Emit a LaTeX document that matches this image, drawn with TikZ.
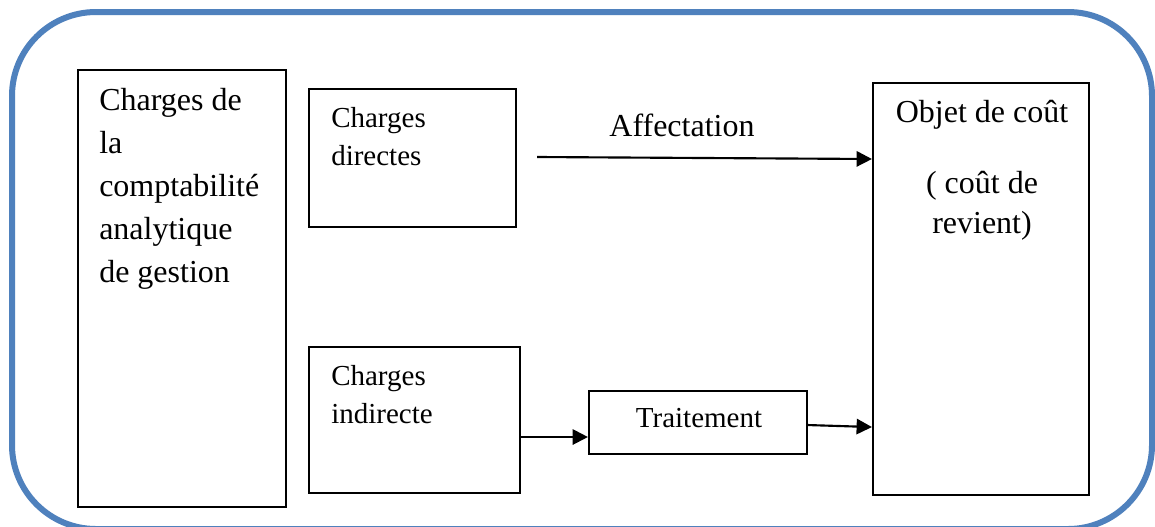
\documentclass[tikz,border=0pt]{standalone}
\usepackage{fontspec}
\setmainfont{Liberation Serif}
\usetikzlibrary{arrows.meta,fit}
\definecolor{frameblue}{RGB}{79,129,189}
\tikzset{
  box/.style={draw=black,line width=1.6pt,inner sep=0pt,fill=none},
  arr/.style={draw=black,line width=1.6pt,-{Triangle[length=11.5pt,width=11.5pt]}},
  bigtxt/.style={inner sep=0pt,font=\fontsize{24pt}{32.25pt}\selectfont},
  smalltxt/.style={inner sep=0pt,font=\fontsize{21.75pt}{28.5pt}\selectfont},
}
\begin{document}
\begin{tikzpicture}[x=0.75pt,y=-0.75pt]
\useasboundingbox (0,0) rectangle (1155,526);
\fill[white] (0,0) rectangle (1155,526);
% outer frame (bottom edge falls just outside the picture)
\begin{scope}
\clip (0,0) rectangle (1155,526);
\draw[frameblue,line width=4.5pt,rounded corners=63pt] (12,12) rectangle (1152,529);
\end{scope}
% boxes
\node[box,fit={(78,70) (286,507)}] (L) {};
\node[box,fit={(309,89) (516,227)}] (D) {};
\node[box,fit={(309,347) (520,493)}] (I) {};
\node[box,fit={(589,391) (807,454)}] (T) {};
\node[box,fit={(873,83) (1089,495)}] (R) {};
% texts (anchor = baseline of last line)
\node[bigtxt,anchor=base west,align=left] (Ltxt) at (99,282) {Charges de\\la\\comptabilité\\analytique\\de gestion};
\node[smalltxt,anchor=base west,align=left] (Dtxt) at (331,165) {Charges\\directes};
\node[smalltxt,anchor=base west,align=left] (Itxt) at (331,423) {Charges\\indirecte};
\node[smalltxt,anchor=base] (Ttxt) at (699,427) {Traitement};
\node[bigtxt,anchor=base,align=center,font=\fontsize{24pt}{30pt}\selectfont] (Rtxt) at (982,233) {Objet de coût\\[23.25pt]( coût de\\revient)};
\node[bigtxt,anchor=base] (aff) at (682,136) {Affectation};
% connectors
\coordinate (a0) at (537,157);
\draw[arr] (a0) -- ([yshift=-1.5pt]a0 -| R.west);
\draw[arr] ([yshift=-12.75pt]I.east) -- ([yshift=-12.75pt]I.east -| T.west);
\draw[arr] ([yshift=-1.9pt]T.east) -- ([yshift=-3.4pt]T.east -| R.west);
\end{tikzpicture}
\end{document}
